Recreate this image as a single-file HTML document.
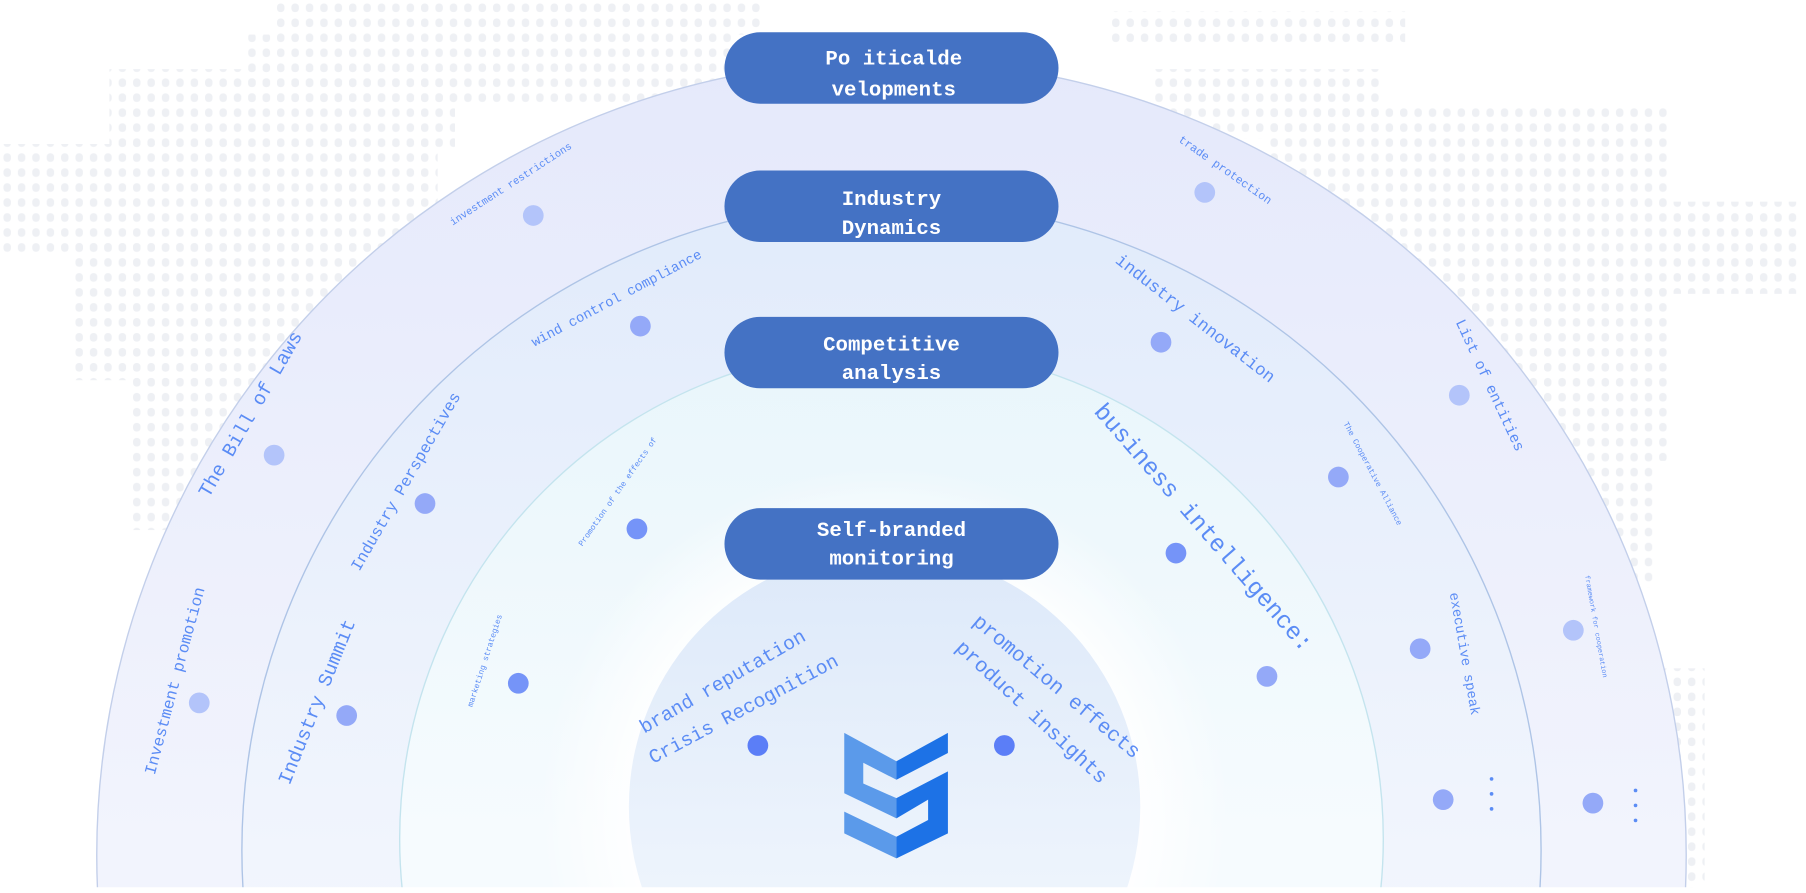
<!DOCTYPE html>
<html><head><meta charset="utf-8"><style>
html,body{margin:0;padding:0;background:#fff;overflow:hidden;width:1806px;height:893px;}
svg{display:block;}
text{font-family:"Liberation Mono","DejaVu Sans Mono",monospace;}
</style></head><body>
<svg width="1806" height="893" viewBox="0 0 1568 775" preserveAspectRatio="none" xmlns="http://www.w3.org/2000/svg">
<defs>
<pattern id="dots" width="12.5" height="13" patternUnits="userSpaceOnUse"><rect x="3" y="3" width="6.5" height="7.5" rx="3" fill="#eef0f4"/></pattern>
<linearGradient id="g1" x1="0" y1="0" x2="0" y2="1"><stop offset="0" stop-color="#e5e9fb"/><stop offset="0.5" stop-color="#f2f4fd"/><stop offset="1" stop-color="#f8f9fe"/></linearGradient>
<linearGradient id="g2" x1="0" y1="0" x2="0" y2="1"><stop offset="0" stop-color="#e1ebfb"/><stop offset="0.5" stop-color="#f1f5fd"/><stop offset="1" stop-color="#f8fafe"/></linearGradient>
<linearGradient id="g3" x1="0" y1="0" x2="0" y2="1"><stop offset="0" stop-color="#e9f6fb"/><stop offset="0.5" stop-color="#f6fbfe"/><stop offset="1" stop-color="#f9fbfe"/></linearGradient>
<linearGradient id="g4" x1="0" y1="0" x2="0" y2="1"><stop offset="0" stop-color="#dde9f9"/><stop offset="0.6" stop-color="#ecf3fc"/><stop offset="1" stop-color="#f4f8fd"/></linearGradient>
<radialGradient id="glow" cx="0.5" cy="0.5" r="0.5"><stop offset="0.7" stop-color="#ffffff"/><stop offset="1" stop-color="#ffffff" stop-opacity="0"/></radialGradient>
</defs>
<g fill="url(#dots)">
<rect x="240" y="0" width="420" height="30"/>
<rect x="215" y="30" width="420" height="60"/>
<rect x="95" y="60" width="300" height="70"/>
<rect x="0" y="125" width="380" height="95"/>
<rect x="60" y="210" width="300" height="120"/>
<rect x="110" y="320" width="230" height="140"/>
<rect x="180" y="450" width="110" height="120"/>
<rect x="960" y="10" width="260" height="30"/>
<rect x="1000" y="60" width="200" height="60"/>
<rect x="1100" y="90" width="350" height="90"/>
<rect x="1080" y="175" width="480" height="80"/>
<rect x="1120" y="250" width="330" height="150"/>
<rect x="1250" y="400" width="190" height="110"/>
<rect x="1420" y="580" width="60" height="195"/>
<rect x="1340" y="500" width="80" height="100"/>
</g>
<circle cx="774" cy="742" r="690" fill="url(#g1)" stroke="#c3cfea" stroke-width="1.2"/>
<circle cx="774" cy="738" r="564" fill="url(#g2)" stroke="#aec4e6" stroke-width="1.2"/>
<circle cx="774" cy="728" r="427" fill="url(#g3)" stroke="#c4e4ee" stroke-width="1.2"/>
<circle cx="768" cy="705" r="300" fill="url(#glow)"/>
<circle cx="768" cy="700" r="222" fill="url(#g4)"/>
<rect x="0" y="770" width="1568" height="5" fill="#fff"/>
<g fill="#4472c4">
<rect x="629" y="28" width="290" height="62" rx="31"/>
<rect x="629" y="148" width="290" height="62" rx="31"/>
<rect x="629" y="275" width="290" height="62" rx="31"/>
<rect x="629" y="441" width="290" height="62" rx="31"/>
</g>
<g fill="#fff" font-size="18" text-anchor="middle" font-weight="bold">
<text x="776" y="56">Po iticalde</text><text x="776" y="83">velopments</text>
<text x="774" y="178">Industry</text><text x="774" y="203">Dynamics</text>
<text x="774" y="304">Competitive</text><text x="774" y="329">analysis</text>
<text x="774" y="465">Self-branded</text><text x="774" y="490">monitoring</text>
</g>
<g fill="#5b8cf5" text-anchor="middle">
<text font-size="9" transform="translate(445,162) rotate(-33)">investment restrictions</text>
<text font-size="10" transform="translate(1062,150) rotate(35)">trade protection</text>
<text font-size="12" transform="translate(537,262) rotate(-28)">wind control compliance</text>
<text font-size="15" transform="translate(1035,280) rotate(38)">industry innovation</text>
<text font-size="17" transform="translate(222,362) rotate(-60)">The Bill of Laws</text>
<text font-size="14" transform="translate(356,420) rotate(-60)">Industry Perspectives</text>
<text font-size="13" transform="translate(1290,336) rotate(65)">List of entities</text>
<text font-size="21" transform="translate(1040,462) rotate(49)">business intelligence:</text>
<text font-size="7" transform="translate(1190,412) rotate(62)">The Cooperative Alliance</text>
<text font-size="7" transform="translate(538,428) rotate(-55)">Promotion of the effects of</text>
<text font-size="14" transform="translate(156,592) rotate(-75)">Investment promotion</text>
<text font-size="17" transform="translate(280,611) rotate(-68)">Industry Summit</text>
<text font-size="7" transform="translate(423,574) rotate(-72)">marketing strategies</text>
<text font-size="12" transform="translate(1268,568) rotate(80)">executive speak</text>
<text font-size="6" transform="translate(1384,544) rotate(80)">framework for cooperation</text>
<text font-size="17" transform="translate(630,596) rotate(-30)">brand reputation</text>
<text font-size="17" transform="translate(648,620) rotate(-28)">Crisis Recognition</text>
<text font-size="18" transform="translate(914,600) rotate(40)">promotion effects</text>
<text font-size="18" transform="translate(892,622) rotate(43)">product insights</text>
</g>
<g fill="#b3c4fa">
<circle cx="463" cy="187" r="9"/><circle cx="1046" cy="167" r="9"/>
<circle cx="238" cy="395" r="9"/><circle cx="1267" cy="343" r="9"/>
<circle cx="173" cy="610" r="9"/><circle cx="1366" cy="547" r="9"/>
</g>
<g fill="#94a9f8">
<circle cx="556" cy="283" r="9"/><circle cx="1008" cy="297" r="9"/>
<circle cx="369" cy="437" r="9"/><circle cx="1162" cy="414" r="9"/>
<circle cx="301" cy="621" r="9"/><circle cx="1233" cy="563" r="9"/>
<circle cx="1100" cy="587" r="9"/><circle cx="1253" cy="694" r="9"/>
<circle cx="1383" cy="697" r="9"/>
</g>
<g fill="#7594f8">
<circle cx="553" cy="459" r="9"/><circle cx="1021" cy="480" r="9"/>
<circle cx="450" cy="593" r="9"/>
</g>
<g fill="#5b7ef7">
<circle cx="658" cy="647" r="9"/><circle cx="872" cy="647" r="9"/>
</g>
<g fill="#5b8cf5">
<circle cx="1295" cy="676" r="1.6"/><circle cx="1295" cy="689" r="1.6"/><circle cx="1295" cy="702" r="1.6"/>
<circle cx="1420" cy="686" r="1.6"/><circle cx="1420" cy="699" r="1.6"/><circle cx="1420" cy="712" r="1.6"/>
</g>
<polygon fill="#5b9aea" points="733,636 778.3,660.7 778.3,676.7 749.5,662 749.5,680 778.3,692.7 778.3,710.2 733,688.4"/>
<polygon fill="#5b9aea" points="733,704.4 778.3,726.2 778.3,745 733,723.3"/>
<polygon fill="#1d72e6" points="778.3,660.7 823,636 823,653.5 778.3,676.7"/>
<polygon fill="#1d72e6" points="778.3,692.7 823,669.5 823,723.3 778.3,745 778.3,726.2 805.8,711.7 805.8,694 778.3,710.2"/>
</svg>
</body></html>
